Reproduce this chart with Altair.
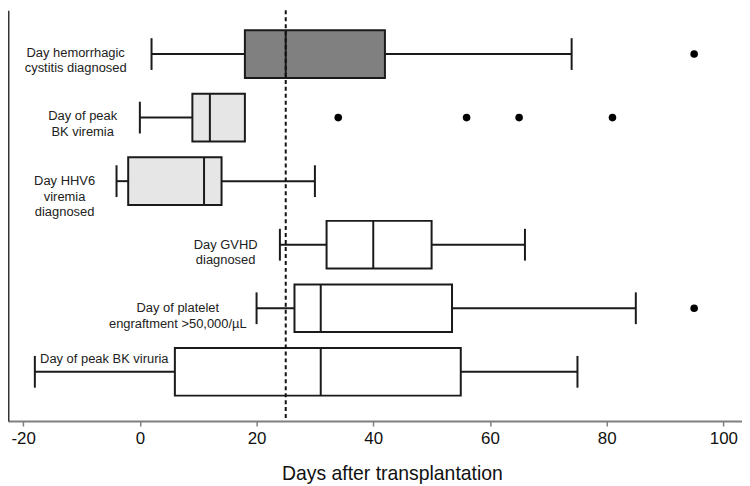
import altair as alt
import pandas as pd

# ---- data ----
labels = [
    "Day hemorrhagic\ncystitis diagnosed",
    "Day of peak\nBK viremia",
    "Day HHV6\nviremia\ndiagnosed",
    "Day GVHD\ndiagnosed",
    "Day of platelet\nengraftment >50,000/µL",
    "Day of peak BK viruria",
]
whisk_lo = [2, 0, -4, 24, 20, -18]
q1 = [18, 9, -2, 32, 26.5, 6]
median = [25, 12, 11, 40, 31, 31]
q3 = [42, 18, 14, 50, 53.5, 55]
whisk_hi = [74, 18, 30, 66, 85, 75]

outlier_rows = [1, 2, 2, 2, 2, 5]
outlier_vals = [95, 34, 56, 65, 81, 95]

ref_day = [25]
x_ticks = [-20, 0, 20, 40, 60, 80, 100]

# label anchor positions (data units)
label_x = [-11.0, -9.8, -12.9, 14.7, 6.5, -6.1]
label_y = [0.98, 1.98, 3.0, 4.0, 5.0, 5.8]

fills = ["#808080", "#e6e6e6", "#e6e6e6", "#ffffff", "#ffffff", "#ffffff"]

HALF = 0.375
CAP = 0.25
rows = list(range(1, len(labels) + 1))

box = pd.DataFrame({
    "row": rows, "label": labels, "lo": whisk_lo, "q1": q1, "med": median,
    "q3": q3, "hi": whisk_hi,
})
box["top"] = box["row"] - HALF
box["bot"] = box["row"] + HALF
box["ctop"] = box["row"] - CAP
box["cbot"] = box["row"] + CAP

outl = pd.DataFrame({"row": outlier_rows, "val": outlier_vals})
ref = pd.DataFrame({"x": ref_day})
lab = pd.DataFrame({"label": labels, "lx": label_x, "ly": label_y})

xscale = alt.Scale(domain=[-22.6, 103.2], nice=False, zero=False)
yscale = alt.Scale(domain=[0.311, 6.775], nice=False, zero=False, reverse=True)

xaxis = alt.Axis(values=x_ticks, title="Days after transplantation", grid=False,
                 labelExpr="toString(datum.value)",
                 domainColor="#7f7f7f", domainWidth=2, tickColor="#7f7f7f",
                 tickWidth=1.5, tickSize=5, labelFont="Liberation Sans",
                 labelFontSize=17, labelColor="#111", labelPadding=5,
                 titleFont="Liberation Sans", titleFontSize=19.5,
                 titleFontWeight="normal", titleColor="#111",
                 titleX=386, titleY=59, titleBaseline="alphabetic",
                 titleAlign="center")
yaxis = alt.Axis(labels=False, ticks=False, title=None, grid=False,
                 domainColor="#333", domainWidth=2)

STROKE = "#1a1a1a"
SW = 2

base = alt.Chart(box)

rect = base.mark_rect(stroke=STROKE, strokeWidth=SW).encode(
    x=alt.X("q1:Q", scale=xscale, axis=xaxis),
    x2="q3:Q",
    y=alt.Y("top:Q", scale=yscale, axis=yaxis),
    y2="bot:Q",
    fill=alt.Fill("label:N", scale=alt.Scale(domain=labels, range=fills), legend=None),
)

w_lo = base.mark_rule(color=STROKE, strokeWidth=SW).encode(
    x=alt.X("lo:Q", scale=xscale), x2="q1:Q", y=alt.Y("row:Q", scale=yscale))
w_hi = base.mark_rule(color=STROKE, strokeWidth=SW).encode(
    x=alt.X("q3:Q", scale=xscale), x2="hi:Q", y=alt.Y("row:Q", scale=yscale))
cap_lo = base.mark_rule(color=STROKE, strokeWidth=SW).encode(
    x=alt.X("lo:Q", scale=xscale), y=alt.Y("ctop:Q", scale=yscale), y2="cbot:Q")
cap_hi = base.transform_filter("datum.hi > datum.q3").mark_rule(color=STROKE, strokeWidth=SW).encode(
    x=alt.X("hi:Q", scale=xscale), y=alt.Y("ctop:Q", scale=yscale), y2="cbot:Q")
med = base.mark_rule(color=STROKE, strokeWidth=SW).encode(
    x=alt.X("med:Q", scale=xscale), y=alt.Y("top:Q", scale=yscale), y2="bot:Q")

dash = alt.Chart(ref).mark_rule(color="#111", strokeWidth=2, strokeDash=[4, 3]).encode(
    x=alt.X("x:Q", scale=xscale))

pts = alt.Chart(outl).mark_circle(color="#000", opacity=1, size=58).encode(
    x=alt.X("val:Q", scale=xscale), y=alt.Y("row:Q", scale=yscale))

txt = alt.Chart(lab).mark_text(font="Liberation Sans", fontSize=13, color="#222",
                               lineBreak="\n", lineHeight=15.5, align="center",
                               baseline="middle").encode(
    x=alt.X("lx:Q", scale=xscale), y=alt.Y("ly:Q", scale=yscale), text="label:N")

chart = alt.layer(rect, w_lo, w_hi, cap_lo, cap_hi, med, dash, pts, txt).properties(
    width=738, height=413, padding=0, background="#ffffff"
).configure_view(stroke=None)

chart.save("out.html", embed_options={"renderer": "svg", "actions": False})
